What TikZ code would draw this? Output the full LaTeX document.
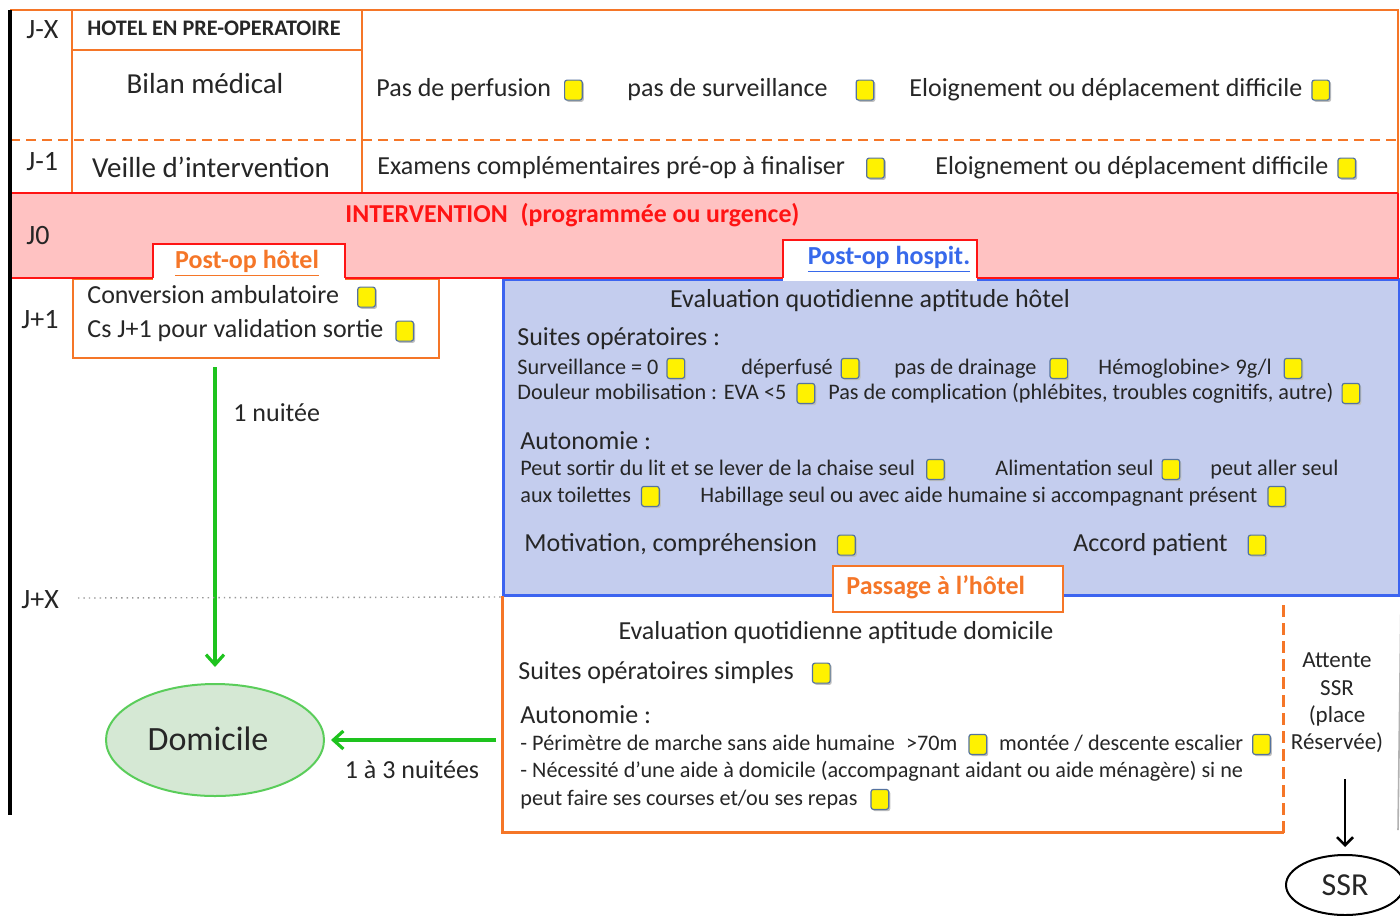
\documentclass[tikz,border=0pt]{standalone}
\usepackage{fontspec}
\setmainfont{Carlito}
\usetikzlibrary{arrows.meta,shapes.geometric}

\definecolor{ink}{RGB}{38,38,38}
\definecolor{orng}{RGB}{245,118,40}
\definecolor{redl}{RGB}{255,20,20}
\definecolor{pinkfill}{RGB}{255,194,194}
\definecolor{bluefill}{RGB}{196,205,238}
\definecolor{blueline}{RGB}{60,100,240}
\definecolor{linkblue}{RGB}{55,105,235}
\definecolor{grn}{RGB}{30,195,30}
\definecolor{grnfill}{RGB}{213,232,212}
\definecolor{grnline}{RGB}{90,205,90}
\definecolor{cbedge}{RGB}{85,115,160}

% small yellow check box used inline in the texts, preceded by a gap
\newcommand\cbx{\tikz[baseline=0pt]{%
  \fill[black!25,rounded corners=1.2pt] (0.9pt,-2.9pt) rectangle (9.6pt,7.3pt);
  \draw[cbedge,fill=yellow,rounded corners=1.2pt,line width=0.6pt] (0pt,-2pt) rectangle (8.8pt,8pt);}}
\newcommand\cb[1]{\hspace{#1}\cbx}

\tikzset{
  txt/.style={anchor=west, inner sep=0pt, yshift=-1pt, text=ink, font=\fontsize{13}{15}\selectfont},
  sm/.style={txt, font=\fontsize{11.1}{13}\selectfont},
  big/.style={inner sep=0pt, text=ink, font=\fontsize{14.5}{17}\selectfont},
  day/.style={txt, yshift=0pt, font=\fontsize{14}{16}\selectfont},
  tabtxt/.style={inner sep=0pt, font=\bfseries\fontsize{13}{15}\selectfont},
  grnarrow/.style={draw=grn, line width=1.6pt, -{Straight Barb[length=5pt,width=9pt,line width=1.6pt]}},
}

\begin{document}
\begin{tikzpicture}[x=0.5pt,y=-0.5pt]
\useasboundingbox (0,0) rectangle (1400,915);
\fill[white] (0,0) rectangle (1400,915);

% ---------- pre-operative block ----------
\draw[orng,line width=1pt] (10,10) -- (1398,10) -- (1398,193);
\draw[orng,line width=1pt] (72,10) -- (72,193);
\draw[orng,line width=1pt] (362,10) -- (362,193);
\draw[orng,line width=1pt] (72,50) -- (362,50);
\draw[orng,line width=1pt,dash pattern=on 5pt off 3pt] (10,140) -- (1398,140);

\node[day] (jx) at (26,28) {J-X};
\node[day] (jm1) at (26,160) {J-1};
\node[txt, yshift=1pt, font=\bfseries\fontsize{11.1}{13}\selectfont] (hotel) at (87,28) {HOTEL EN PRE-OPERATOIRE};
\node[big] (bilan) at (205,84) {Bilan médical};
\node[big] (veille) at (211,167) {Veille d’intervention};

\node[txt] (perf) at (376,88) {Pas de perfusion\cb{6.5pt}};
\node[txt] (surv) at (627,88) {pas de surveillance\cb{14pt}};
\node[txt] (eloi1) at (909,88) {Eloignement ou déplacement difficile\cb{4.5pt}};
\node[txt] (exam) at (377,166) {Examens complémentaires pré-op à finaliser\cb{10.5pt}};
\node[txt] (eloi2) at (935,166) {Eloignement ou déplacement difficile\cb{4.5pt}};

% ---------- post-operative hospital box ----------
\node[draw=blueline, fill=bluefill, line width=1.5pt, anchor=north west,
      minimum width=448pt, minimum height=158pt, inner sep=0pt] (hb) at (502,278) {};
\node[draw=orng, line width=1pt, anchor=north west,
      minimum width=183pt, minimum height=39.5pt, inner sep=0pt] (ph) at (72,278) {};

% ---------- intervention band ----------
\fill[pinkfill] (10,193) rectangle (1398,278);
\draw[redl,line width=1.2pt] (10,193) -- (1398,193);
\draw[redl,line width=1.2pt] (10,278) -- (1398,278) -- (1398,193);
\node[day] (j0) at (26,234) {J0};
\node[txt, yshift=1pt, text=redl, font=\bfseries\fontsize{12.9}{15}\selectfont] (interv) at (345,215)
  {INTERVENTION\enspace (programmée ou urgence)};

% tabs
\fill[white] (153,244) rectangle (345,281);
\draw[redl,line width=1pt] (153,278) -- (153,244) -- (345,244) -- (345,278);
\node[tabtxt, text=orng] (tabh) at (247,263) {\underline{Post-op hôtel}};
\fill[white] (783,240) rectangle (977,281);
\draw[redl,line width=1pt] (783,278) -- (783,240) -- (977,240) -- (977,278);
\node[tabtxt, text=linkblue] (tabp) at (889,259) {\underline{Post-op hospit.}};

% ---------- left column ----------
\draw[black,line width=1.6pt] (10,10) -- (10,815);
\node[day] (jp1) at (21,318) {J+1};
\node[txt] (conv) at (87,295) {Conversion ambulatoire\cb{9pt}};
\node[txt] (cs) at (87,329) {Cs J+1 pour validation sortie\cb{6pt}};

\node[draw=grnline, fill=grnfill, line width=1pt, ellipse, minimum width=109pt, minimum height=56pt,
      inner sep=0pt] (dom) at (215,740) {};
\node[inner sep=0pt, text=ink, font=\fontsize{17}{20}\selectfont] (domt) at (208,739) {Domicile};
\draw[grnarrow, shorten <=4pt, shorten >=8pt] (ph.south -| dom.north) -- (dom.north);
\node[txt] (n1) at (233,411) {1 nuitée};

\node[day] (jpx) at (21,598) {J+X};
\draw[black!40, line width=0.7pt, dotted] (78,598) -- (hb.south west);

% ---------- hospital box contents ----------
\node[txt, anchor=center] (evh) at (870,299) {Evaluation quotidienne aptitude hôtel};
\node[txt] (suites) at (517,337) {Suites opératoires :};
\node[sm] (s1) at (517,367) {Surveillance = 0\cb{4pt}};
\node[sm] (s2) at (741,367) {déperfusé\cb{4pt}};
\node[sm] (s3) at (894,367) {pas de drainage\cb{6.5pt}};
\node[sm] (s4) at (1098,367) {Hémoglobine> 9g/l\cb{6pt}};
\node[sm] (s5) at (517,392) {Douleur mobilisation : EVA <5\cb{5pt}\hspace{6pt}Pas de complication (phlébites, troubles cognitifs, autre)\cb{4pt}};
\node[txt] (auto1) at (520,439) {Autonomie :};
\node[sm] (a1) at (520,468) {Peut sortir du lit et se lever de la chaise seul\cb{5.5pt}};
\node[sm] (a2) at (995,468) {Alimentation seul\cb{4pt}};
\node[sm] (a3) at (1210,468) {peut aller seul};
\node[sm] (a4) at (520,495) {aux toilettes\cb{5pt}};
\node[sm] (a5) at (700,495) {Habillage seul ou avec aide humaine si accompagnant présent\cb{5pt}};
\node[txt] (motiv) at (524,543) {Motivation, compréhension\cb{10pt}};
\node[txt] (accord) at (1073,543) {Accord patient\cb{10pt}};

% ---------- home-readiness box ----------
\node[anchor=north west, minimum width=390.5pt, minimum height=118pt, inner sep=0pt] (db) at (502,596) {};
\draw[orng,line width=1.5pt] (db.north west) -- (db.south west) -- (db.south east);
\draw[orng,line width=1.5pt,dash pattern=on 6pt off 3pt] (db.south east) -- ([yshift=-2pt]db.north east);
\draw[black!30,line width=0.8pt] (hb.south east) -- (1398,830);

\node[draw=orng, line width=1pt, fill=white, minimum width=115pt, minimum height=23pt, inner sep=0pt] (pass) at (948,589) {};
\node[tabtxt, anchor=west, text=orng] (passt) at (846,587) {Passage à l’hôtel};

\node[txt, anchor=center] (evd) at (836,631) {Evaluation quotidienne aptitude domicile};
\node[txt] (simp) at (518,671) {Suites opératoires simples\cb{9pt}};
\node[txt] (auto2) at (520,713) {Autonomie :};
\node[sm] (d1) at (520,743) {- Périmètre de marche sans aide humaine\enspace >70m\cb{5.5pt}\hspace{5.5pt}montée / descente escalier\cb{4.5pt}};
\node[sm] (d2) at (520,769) {- Nécessité d’une aide à domicile (accompagnant aidant ou aide ménagère) si ne};
\node[sm] (d3) at (520,798) {peut faire ses courses et/ou ses repas\cb{6.5pt}};

\draw[grnarrow, shorten <=3pt, shorten >=3pt] (db.west |- dom.east) -- (dom.east);
\node[txt, anchor=center] (n13) at (412,768) {1 à 3 nuitées};

% ---------- rehabilitation waiting ----------
\node[text=ink, inner sep=0pt, align=center, font=\fontsize{11.5}{13.6}\selectfont] (att) at (1337,703)
  {Attente\\SSR\\(place\\Réservée)};
\node[draw=black, line width=1pt, ellipse, minimum width=59pt, minimum height=30pt, inner sep=0pt,
      text=ink, font=\fontsize{16}{19}\selectfont] (ssr) at (1345,885) {SSR};
\draw[black, line width=1.3pt, -{Straight Barb[length=4pt,width=8pt,line width=1.3pt]},
      shorten <=13pt, shorten >=3.5pt] (att.south -| ssr.north) -- (ssr.north);
\end{tikzpicture}
\end{document}
